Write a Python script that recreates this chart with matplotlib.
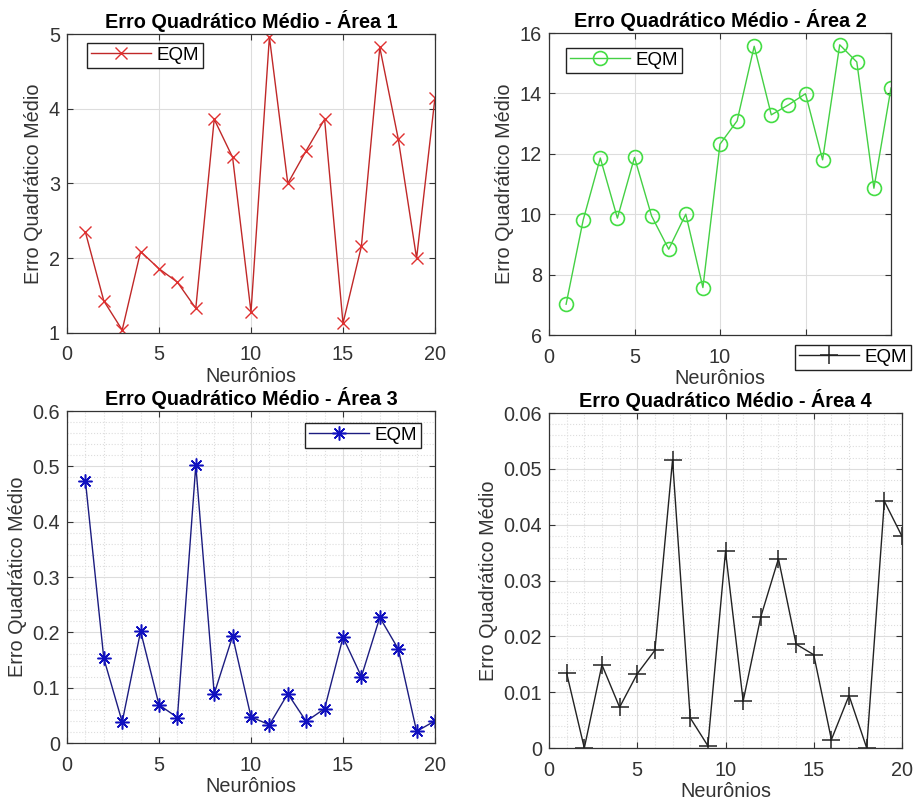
import matplotlib
matplotlib.use('Agg')
import matplotlib.pyplot as plt
from matplotlib.ticker import MultipleLocator

plt.rcParams['font.family'] = ['Liberation Sans', 'DejaVu Sans']

neuronios = list(range(1, 21))

eqm_area1 = [2.35, 1.43, 1.04, 2.09, 1.86, 1.68, 1.33, 3.86, 3.35, 1.28,
             4.96, 3.00, 3.44, 3.86, 1.13, 2.16, 4.82, 3.60, 2.00, 4.15]
eqm_area2 = [7.02, 9.81, 11.86, 9.87, 11.88, 9.94, 8.84, 10.00, 7.57, 12.32,
             13.09, 15.56, 13.29, 13.62, 13.99, 11.80, 15.61, 15.04, 10.86, 14.18]
eqm_area3 = [0.474, 0.153, 0.038, 0.202, 0.069, 0.046, 0.502, 0.089, 0.193, 0.047,
             0.033, 0.089, 0.039, 0.062, 0.191, 0.120, 0.227, 0.170, 0.021, 0.040]
eqm_area4 = [0.0134, 0.0000, 0.0149, 0.0073, 0.0133, 0.0175, 0.0516, 0.0054, 0.0004, 0.0352,
             0.0084, 0.0235, 0.0339, 0.0186, 0.0167, 0.0015, 0.0094, 0.0000, 0.0442, 0.0379]

W, H = 915, 805
fig = plt.figure(figsize=(W / 100, H / 100), dpi=100)


def box(l, r, t, b):
    return [l / W, (H - b) / H, (r - l) / W, (b - t) / H]


def estilo(ax, titulo, ylim, yticks, minor=None):
    ax.set_xlim(0, 20)
    ax.set_ylim(*ylim)
    ax.set_xticks([0, 5, 10, 15, 20])
    ax.set_yticks(yticks)
    ax.set_title(titulo, fontsize=14.3, fontweight='bold', pad=4)
    ax.set_xlabel('Neurônios', fontsize=14.3, color='#333333', labelpad=2)
    ax.set_ylabel('Erro Quadrático Médio', fontsize=14.3, color='#333333', labelpad=4)
    ax.tick_params(labelsize=14.3, colors='#333333', direction='in', length=4,
                   top=True, right=True)
    ax.tick_params(axis='x', pad=9)
    ax.tick_params(axis='y', pad=5)
    ax.grid(True, which='major', color='#dddddd', linewidth=0.8)
    if minor is not None:
        ax.xaxis.set_minor_locator(MultipleLocator(1))
        ax.yaxis.set_minor_locator(MultipleLocator(minor))
        ax.tick_params(which='minor', length=0)
        ax.grid(True, which='minor', color='#dddddd', linestyle=':', linewidth=0.8)
    ax.set_axisbelow(True)
    for s in ax.spines.values():
        s.set_color('#333333')
        s.set_linewidth(0.9)


def legenda(ax, x, y):
    leg = ax.legend(loc='upper left', bbox_to_anchor=(x / W, 1 - y / H),
                    bbox_transform=fig.transFigure, fontsize=13.5, fancybox=False,
                    edgecolor='#222222', framealpha=1, handlelength=3.2,
                    borderpad=0.2, handletextpad=0.3, borderaxespad=0)
    leg.get_frame().set_linewidth(1.0)


ax1 = fig.add_axes(box(67, 435, 34, 333))
ax1.plot(neuronios, eqm_area1, color='#c02828', marker='x', markersize=8,
         markeredgecolor='#e03030', linewidth=1.0, label='EQM')
estilo(ax1, 'Erro Quadrático Médio - Área 1', (1, 5), [1, 2, 3, 4, 5])
legenda(ax1, 87, 43)

ax2 = fig.add_axes(box(549, 891, 33, 335))
ax2.plot(neuronios, eqm_area2, color='#44d044', marker='o', markersize=10,
         markerfacecolor='none', markeredgecolor='#44dd44', markeredgewidth=1.2,
         linewidth=1.0, label='EQM')
estilo(ax2, 'Erro Quadrático Médio - Área 2', (6, 16), [6, 8, 10, 12, 14, 16])
# os rótulos 15 e 20 ficam escondidos atrás da legenda da Área 4
ax2.set_xticklabels(['0', '5', '10', '', ''])
legenda(ax2, 566, 48)

ax3 = fig.add_axes(box(67, 435, 411, 743))
ax3.plot(neuronios, eqm_area3, color='#1c1c80', marker=(8, 2, 0), markersize=10,
         markeredgecolor='#1010c0', markeredgewidth=1.1, linewidth=1.0,
         label='EQM')
estilo(ax3, 'Erro Quadrático Médio - Área 3', (0, 0.6),
       [0, 0.1, 0.2, 0.3, 0.4, 0.5, 0.6], minor=0.02)
ax3.set_yticklabels(['0', '0.1', '0.2', '0.3', '0.4', '0.5', '0.6'])
legenda(ax3, 305, 423)

ax4 = fig.add_axes(box(549, 902, 413, 748))
ax4.plot(neuronios, eqm_area4, color='#222222', marker='+', markersize=13,
         markeredgewidth=1.1, linewidth=1.0, label='EQM')
estilo(ax4, 'Erro Quadrático Médio - Área 4', (0, 0.06),
       [0, 0.01, 0.02, 0.03, 0.04, 0.05, 0.06], minor=0.002)
ax4.set_yticklabels(['0', '0.01', '0.02', '0.03', '0.04', '0.05', '0.06'])
legenda(ax4, 795, 345)

fig.savefig('out.png', dpi=100, facecolor='white')
